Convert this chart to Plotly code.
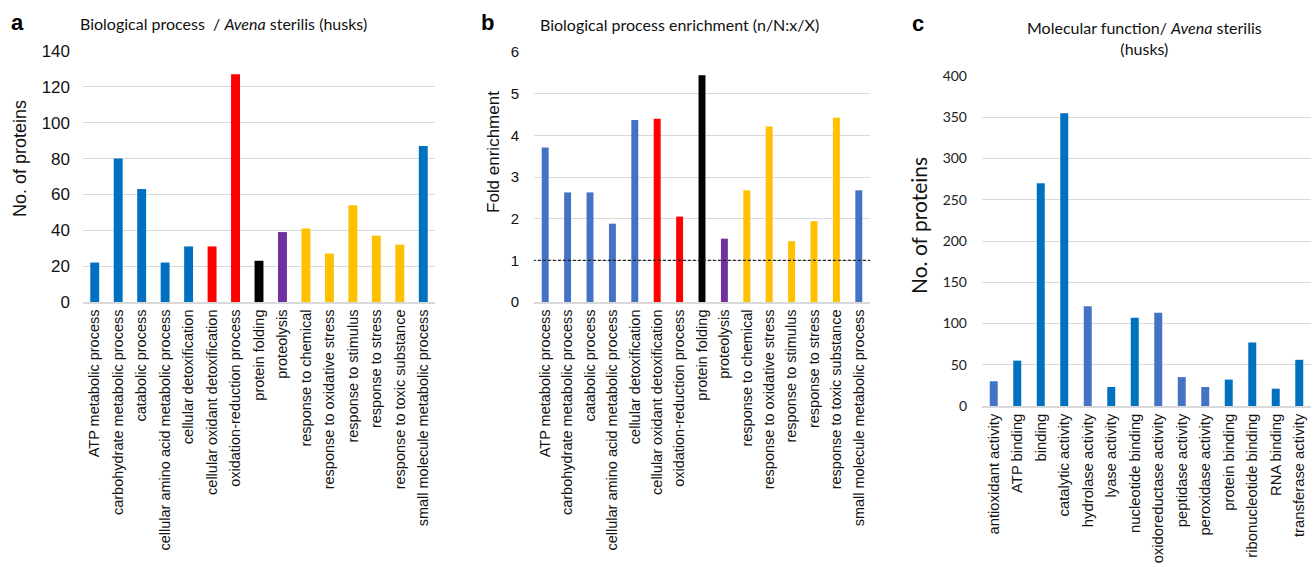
import plotly.graph_objects as go

W, H = 1313, 567

# ---- data ----
bp_categories = ["ATP metabolic process", "carbohydrate metabolic process", "catabolic process",
                 "cellular amino acid metabolic process", "cellular detoxification",
                 "cellular oxidant detoxification", "oxidation-reduction process", "protein folding",
                 "proteolysis", "response to chemical", "response to oxidative stress",
                 "response to stimulus", "response to stress", "response to toxic substance",
                 "small molecule metabolic process"]
bp_counts = [22, 80, 63, 22, 31, 31, 127, 23, 39, 41, 27, 54, 37, 32, 87]
bp_colors_a = ["#0070C0"] * 5 + ["#FF0000", "#FF0000", "#000000", "#7030A0"] + ["#FFC000"] * 5 + ["#0070C0"]

bp_fold = [3.71, 2.63, 2.63, 1.88, 4.37, 4.40, 2.05, 5.44, 1.52, 2.68, 4.21, 1.46, 1.94, 4.42, 2.68]
bp_colors_b = ["#4472C4"] * 5 + ["#FF0000", "#FF0000", "#000000", "#7030A0"] + ["#FFC000"] * 5 + ["#4472C4"]
threshold = 1

mf_categories = ["antioxidant activity", "ATP binding", "binding", "catalytic activity",
                 "hydrolase activity", "lyase activity", "nucleotide binding",
                 "oxidoreductase activity", "peptidase activity", "peroxidase activity",
                 "protein binding", "ribonucleotide binding", "RNA binding", "transferase activity"]
mf_counts = [30, 55, 270, 355, 121, 23, 107, 113, 35, 23, 32, 77, 21, 56]
mf_colors = ["#4472C4", "#0070C0", "#0070C0", "#0070C0", "#4472C4", "#0070C0", "#0070C0",
             "#4472C4", "#4472C4", "#4472C4", "#0070C0", "#0070C0", "#0070C0", "#0070C0"]


def px_x(a, b):
    return [a / W, b / W]


def px_y(top, bottom):
    return [1 - bottom / H, 1 - top / H]


fig = go.Figure()
fig.add_trace(go.Bar(x=bp_categories, y=bp_counts, marker=dict(color=bp_colors_a, line_width=0),
                     width=0.38, xaxis="x", yaxis="y", showlegend=False))
fig.add_trace(go.Bar(x=bp_categories, y=bp_fold, marker=dict(color=bp_colors_b, line_width=0),
                     width=0.31, xaxis="x2", yaxis="y2", showlegend=False))
fig.add_trace(go.Scatter(x=[-0.55, len(bp_categories) - 0.45], y=[threshold, threshold], mode="lines",
                         line=dict(color="#222222", width=1.4, dash="3px,2px"),
                         xaxis="x4", yaxis="y2", showlegend=False, hoverinfo="skip"))
fig.add_trace(go.Bar(x=mf_categories, y=mf_counts, marker=dict(color=mf_colors, line_width=0),
                     width=0.34, xaxis="x3", yaxis="y3", showlegend=False))

grid = "#D9D9D9"
tick_font_arial = dict(family="Liberation Sans, Arial", size=17, color="#111")

common_x = dict(type="category", tickangle=-90, showgrid=False, showline=True, linecolor=grid,
                linewidth=1.5, ticks="", fixedrange=True, automargin=False)
common_y = dict(showgrid=True, gridcolor=grid, gridwidth=1, zeroline=False, showline=False,
                ticks="", fixedrange=True, automargin=False)

fig.update_layout(
    width=W, height=H, margin=dict(l=0, r=0, t=0, b=0, autoexpand=False),
    paper_bgcolor="white", plot_bgcolor="white", bargap=0.6,
    xaxis=dict(domain=px_x(83, 435), anchor="y", range=[-0.5, 14.5],
               tickfont=dict(family="Liberation Sans, Arial", size=14.5, color="#111"), **common_x),
    yaxis=dict(domain=px_y(51, 302), anchor="x", range=[0, 140], dtick=20,
               tickfont=tick_font_arial, ticklabelstandoff=12, **common_y),
    xaxis2=dict(domain=px_x(534, 870), anchor="y2", range=[-0.5, 14.5],
                tickfont=dict(family="Liberation Sans, Arial", size=14.5, color="#111"), **common_x),
    yaxis2=dict(domain=px_y(52, 302), anchor="x2", range=[0, 6], dtick=1,
                tickfont=dict(family="Liberation Sans, Arial", size=15, color="#111"),
                ticklabelstandoff=14, **common_y),
    xaxis4=dict(domain=px_x(534, 870), anchor="y2", overlaying="x2", range=[-0.5, 14.5],
                visible=False, fixedrange=True),
    xaxis3=dict(domain=px_x(982, 1311), anchor="y3", range=[-0.5, 13.5],
                tickfont=dict(family="Liberation Sans, Arial", size=14.8, color="#111"), **common_x),
    yaxis3=dict(domain=px_y(76, 406), anchor="x3", range=[0, 400], dtick=50,
                tickfont=dict(family="Lato, Open Sans", size=14, color="#222"),
                ticklabelstandoff=14, **common_y),
)

title_font = dict(family="Lato, Open Sans", size=16, color="#111")
ann = [
    dict(text="<b>a</b>", x=17, y=22, font=dict(family="Liberation Sans, Arial", size=22, color="#000")),
    dict(text="<b>b</b>", x=487, y=22, font=dict(family="Liberation Sans, Arial", size=22, color="#000")),
    dict(text="<b>c</b>", x=918, y=23, font=dict(family="Liberation Sans, Arial", size=22, color="#000")),
    dict(text="Biological process  / <i>Avena</i> sterilis (husks)", x=223, y=23, font=title_font),
    dict(text="Biological process enrichment (n/N:x/X)", x=679, y=25, font=title_font),
    dict(text="Molecular function/ <i>Avena</i> sterilis<br>(husks)", x=1144, y=38, font=title_font),
    dict(text="No. of proteins", x=20, y=159, textangle=-90,
         font=dict(family="Liberation Sans, Arial", size=18, color="#111")),
    dict(text="Fold enrichment", x=493, y=152, textangle=-90,
         font=dict(family="Liberation Sans, Arial", size=17, color="#111")),
    dict(text="No. of proteins", x=918, y=226, textangle=-90,
         font=dict(family="Lato, Open Sans", size=21, color="#111")),
]
fig.update_layout(annotations=[dict(xref="paper", yref="paper", x=a["x"] / W, y=1 - a["y"] / H,
                                    text=a["text"], showarrow=False, xanchor="center", yanchor="middle",
                                    textangle=a.get("textangle", 0), font=a["font"]) for a in ann])

fig.write_html("out.html", config={"displayModeBar": False},
               post_script="document.body.style.margin='0px';document.body.style.overflow='hidden';")
